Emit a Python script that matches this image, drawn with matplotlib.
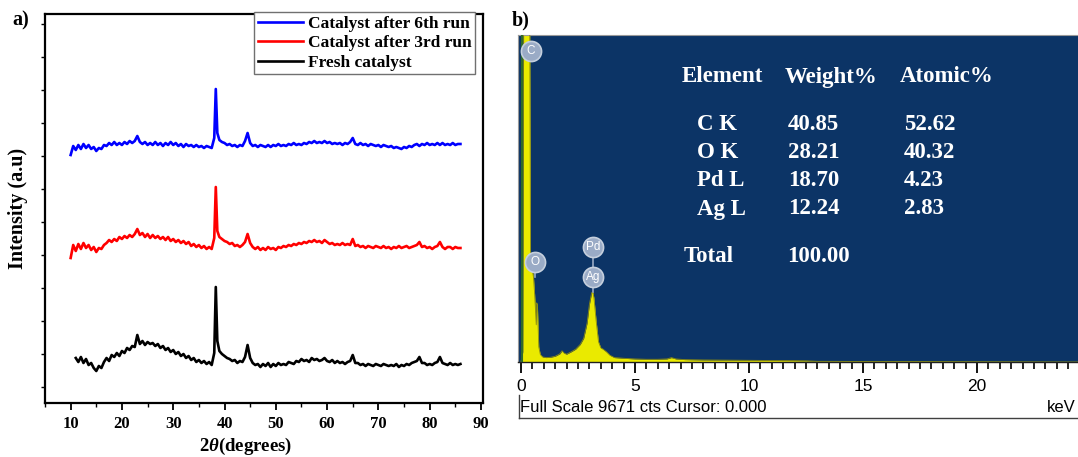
import numpy as np
import matplotlib
matplotlib.use("Agg")
import matplotlib.pyplot as plt
from matplotlib.ticker import MultipleLocator
from matplotlib.lines import Line2D

plt.rcParams["mathtext.fontset"] = "custom"
plt.rcParams["mathtext.it"] = "Liberation Serif:italic:bold"
plt.rcParams["mathtext.rm"] = "Liberation Serif:bold"

# ---- panel a: XRD patterns ----
two_theta = np.round(np.concatenate([np.arange(10, 38.01, 0.5), [38.3, 38.6],
                                     np.arange(39, 86.01, 0.5)]), 1)

fresh = [np.nan, np.nan, 45, 41, 46, 40, 44, 38, 40, 35,
         32, 37, 35, 41, 45, 42, 48, 46, 50, 47,
         52, 50, 55, 53, 57, 56, 68, 59, 62, 58,
         61, 59, 60, 57, 59, 55, 57, 53, 55, 51,
         53, 49, 51, 47, 49, 45, 47, 43, 45, 41,
         43, 40, 42, 39, 41, 38, 50,
         116, 62,
         52, 49, 47, 45, 44, 42, 43, 40, 42, 41,
         46, 58, 45, 40, 38, 39, 36, 39, 37, 40,
         36, 39, 37, 40, 38, 39, 38, 41, 40, 39,
         42, 41, 44, 42, 43, 41, 45, 43, 44, 42,
         43, 45, 42, 41, 43, 40, 42, 40, 41, 39,
         41, 42, 48, 40, 40, 38, 39, 37, 39, 38,
         37, 39, 38, 37, 39, 38, 37, 38, 37, 39,
         36, 38, 37, 39, 38, 40, 41, 42, 46, 40,
         40, 38, 39, 38, 40, 41, 46, 40, 39, 38,
         40, 38, 39, 38, 39]

run3 = [145, 158, 152, 159, 154, 160, 155, 158, 153, 156,
        151, 155, 154, 158, 160, 163, 161, 164, 162, 166,
        164, 167, 165, 168, 166, 169, 174, 168, 170, 166,
        169, 165, 168, 165, 167, 164, 166, 163, 166, 162,
        164, 161, 163, 160, 162, 159, 161, 157, 159, 156,
        158, 155, 157, 154, 156, 154, 165,
        216, 172,
        166, 164, 162, 161, 159, 160, 157, 158, 156, 158,
        161, 169, 160, 156, 154, 156, 153, 155, 153, 156,
        154, 155, 153, 156, 155, 157, 156, 158, 157, 159,
        158, 160, 159, 161, 160, 162, 161, 163, 161, 162,
        160, 163, 161, 159, 160, 158, 159, 158, 160, 158,
        159, 158, 164, 157, 158, 156, 157, 155, 157, 156,
        155, 157, 156, 155, 157, 155, 156, 154, 156, 155,
        157, 155, 156, 157, 155, 156, 157, 158, 161, 156,
        157, 155, 156, 154, 156, 157, 161, 156, 154, 156,
        156, 154, 156, 155, 155]

run6 = [248, 257, 253, 258, 254, 259, 255, 258, 254, 256,
        252, 255, 254, 258, 257, 260, 258, 261, 258, 260,
        258, 261, 259, 262, 260, 262, 267, 261, 259, 261,
        258, 260, 258, 261, 258, 260, 257, 260, 258, 261,
        258, 260, 257, 259, 256, 259, 257, 258, 256, 258,
        256, 257, 255, 257, 256, 255, 265,
        314, 270,
        263, 261, 260, 258, 259, 257, 258, 256, 258, 257,
        262, 270, 260, 257, 258, 256, 258, 257, 256, 258,
        256, 258, 257, 259, 257, 258, 257, 259, 258, 260,
        258, 259, 258, 260, 259, 261, 260, 262, 260, 261,
        260, 262, 260, 261, 259, 260, 259, 260, 258, 260,
        259, 261, 265, 259, 258, 260, 258, 259, 257, 259,
        258, 257, 258, 256, 258, 257, 256, 257, 255, 256,
        255, 254, 256, 255, 257, 256, 258, 259, 257, 259,
        258, 260, 258, 259, 258, 260, 258, 260, 258, 259,
        258, 260, 258, 259, 259]

series_labels = ["Catalyst after 6th run", "Catalyst after 3rd run", "Fresh catalyst"]
series_colors = ["#0000ff", "#ff0000", "#000000"]

# ---- panel b: EDS spectrum ----
energy_kev = [0.0, 0.08, 0.12, 0.16, 0.38, 0.42, 0.48, 0.55, 0.6, 0.64,
              0.67, 0.69, 0.72, 0.75, 0.78, 0.85, 0.95, 1.1, 1.3, 1.5,
              1.7, 1.8, 1.9, 2.0, 2.2, 2.4, 2.6, 2.75, 2.9, 3.0,
              3.1, 3.15, 3.2, 3.3, 3.4, 3.5, 3.6, 3.75, 3.9, 4.1,
              4.5, 5.0, 5.5, 6.0, 6.4, 6.6, 6.8, 7.2, 8.0, 9.0,
              10.0, 11.0, 12.0, 12.5, 13.0, 24.5]
counts = [0, 300, 11000, 11000, 11000, 2900, 2800, 2500, 2000, 1500,
          1100, 1750, 1700, 1100, 450, 220, 150, 130, 140, 170,
          240, 330, 260, 230, 300, 380, 520, 700, 1150, 1700,
          2050, 2070, 1900, 1200, 600, 420, 380, 300, 200, 130,
          110, 90, 80, 80, 90, 130, 90, 70, 60, 55,
          50, 45, 40, 35, 20, 0]
full_scale = 9671

peak_names = ["C", "O", "Pd", "Ag"]
peak_kev = [0.42, 0.6, 3.15, 3.15]
peak_tag_counts = [9200, 2950, 3400, 2500]

table_header = ["Element", "Weight%", "Atomic%"]
elements = ["C K", "O K", "Pd L", "Ag L"]
weight_pct = ["40.85", "28.21", "18.70", "12.24"]
atomic_pct = ["52.62", "40.32", "4.23", "2.83"]
total_weight = "100.00"

W, H = 1078, 457
fig = plt.figure(figsize=(W / 100, H / 100), dpi=100)
serif = "Liberation Serif"
sans = "Liberation Sans"

# panel a
ax1 = fig.add_axes([45 / W, (H - 403) / H, (483 - 45) / W, (403 - 14) / H])
for ys, lab, col in zip([run6, run3, fresh], series_labels, series_colors):
    ax1.plot(two_theta, ys, color=col, lw=1.9, label=lab)
ax1.set_xlim(5, 90.4)
ax1.set_ylim(0, 389)
ax1.xaxis.set_minor_locator(MultipleLocator(5))
ax1.set_xticks(np.arange(10, 91, 10))
ax1.set_yticks(np.arange(16, 389, 33))
ax1.set_yticklabels([])
ax1.tick_params(axis="x", which="major", direction="out", length=5, width=1.3, pad=4)
ax1.tick_params(axis="x", which="minor", direction="out", length=3, width=1.0)
ax1.tick_params(axis="y", direction="out", length=3, width=1.0)
for lbl in ax1.get_xticklabels():
    lbl.set_fontfamily(serif)
    lbl.set_fontweight("bold")
    lbl.set_fontsize(12)
for sp in ax1.spines.values():
    sp.set_linewidth(1.6)
ax1.set_xlabel(r"2$\theta$(degrees)", fontfamily=serif, fontweight="bold", fontsize=13.5,
               va="center")
ax1.xaxis.set_label_coords((246 - 45) / 438, (403 - 446) / 389)
ax1.set_ylabel("Intensity (a.u)", fontfamily=serif, fontweight="bold", fontsize=14.5,
               va="center")
ax1.yaxis.set_label_coords((18 - 45) / 438, 0.5)
leg = ax1.legend(loc="upper right", bbox_to_anchor=(0.982, 1.005), fancybox=False,
                 edgecolor="#707070", framealpha=1,
                 prop={"family": serif, "weight": "bold", "size": 12.5},
                 handlelength=2.6, handletextpad=0.3, labelspacing=0.2,
                 borderpad=0.2, borderaxespad=0)
leg.get_frame().set_linewidth(1.0)
fig.text(12 / W, 1 - 20 / H, "a)", fontfamily=serif, fontweight="bold", fontsize=14.5, va="center")

# panel b
bg = "#0c3466"
ax2 = fig.add_axes([518 / W, (H - 362) / H, (1078 - 518) / W, (362 - 35) / H], facecolor=bg)
ax2.fill_between(energy_kev, counts, 0, color="#eaea00", lw=0, zorder=2)
ax2.plot(energy_kev, counts, color="#8a8a10", lw=0.6, zorder=3)
ax2.axvline(0.04, color="#2f6a2a", lw=1.5, zorder=4)
ax2.set_xlim(-0.13, 24.43)
ax2.set_ylim(0, full_scale)
ax2.set_xticks([0, 5, 10, 15, 20])
ax2.xaxis.set_minor_locator(MultipleLocator(0.5))
ax2.set_yticks([])
ax2.tick_params(axis="x", which="major", direction="out", length=8, width=1.3, pad=4,
                labelsize=12.5)
ax2.tick_params(axis="x", which="minor", direction="out", length=5, width=1.2)
for lbl in ax2.get_xticklabels():
    lbl.set_fontfamily(sans)
ax2.spines["right"].set_visible(False)
ax2.spines["top"].set_color("#9a9a9a")
ax2.spines["left"].set_color("#9a9a9a")
ax2.spines["bottom"].set_color("#202020")
ax2.spines["bottom"].set_linewidth(1.0)

# element tags
tag_face = "#9aabc6"
ax2.plot([peak_kev[2], peak_kev[2]], [counts[31], peak_tag_counts[2]], color=tag_face, lw=1.2, zorder=5)
ax2.plot([peak_kev[1], peak_kev[1]], [2500, peak_tag_counts[1]], color=tag_face, lw=1.2, zorder=5)
for name, xk, yc in zip(peak_names, peak_kev, peak_tag_counts):
    ax2.plot(xk, yc, "o", ms=14.5, mfc=tag_face, mec="#c5cfdd", mew=1.2, zorder=6, clip_on=False)
    ax2.text(xk, yc, name, color="white", fontsize=8.5, fontfamily=sans,
             ha="center", va="center", zorder=7)

# composition table
tkw = dict(color="white", fontfamily=serif, fontweight="bold", fontsize=16.5, va="center")
for txt, xp in zip(table_header, [682, 785, 900]):
    fig.text(xp / W, 1 - 77 / H, txt, **tkw)
for i, (el, wt, at) in enumerate(zip(elements, weight_pct, atomic_pct)):
    yp = 1 - (125 + 28 * i) / H
    fig.text(697 / W, yp, el, **tkw)
    fig.text(788 / W, yp, wt, **tkw)
    fig.text(904 / W, yp, at, **tkw)
fig.text(684 / W, 1 - 257 / H, "Total", **tkw)
fig.text(787 / W, 1 - 257 / H, total_weight, **tkw)

# status strip under spectrum
fig.text(520 / W, 1 - 407 / H, f"Full Scale {full_scale} cts Cursor: 0.000",
         fontfamily=sans, fontsize=12, va="center")
fig.text(1076 / W, 1 - 407 / H, "keV", fontfamily=sans, fontsize=12, va="center", ha="right")
fig.add_artist(Line2D([519 / W, 519 / W], [1 - 395 / H, 1 - 418 / H], color="#404040", lw=1.0))
fig.add_artist(Line2D([519 / W, 1.0], [1 - 418 / H, 1 - 418 / H], color="#404040", lw=1.0))
fig.text(512 / W, 1 - 20 / H, "b)", fontfamily=serif, fontweight="bold", fontsize=14.5, va="center")

fig.savefig("out.png", dpi=100)
